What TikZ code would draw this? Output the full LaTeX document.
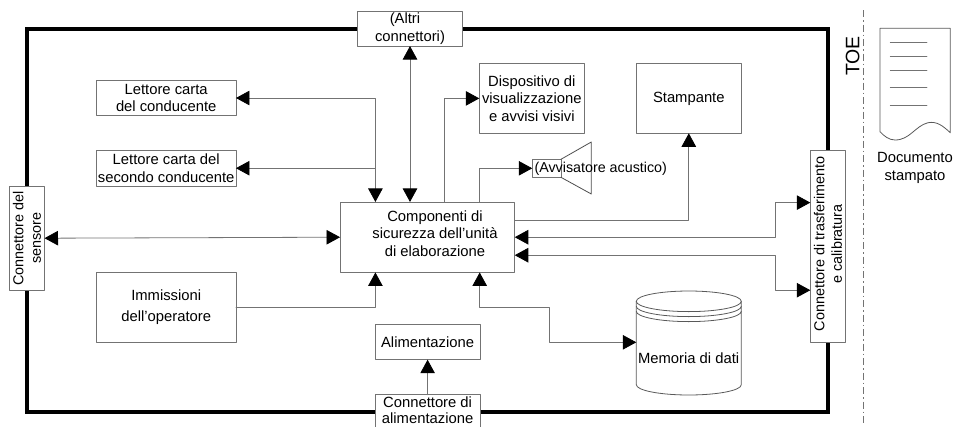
\documentclass[tikz,border=0pt]{standalone}
\usepackage{fontspec}
\setmainfont{Liberation Sans}
\usetikzlibrary{arrows.meta}
\definecolor{linegray}{gray}{0.45}
\tikzset{
  blockbox/.style={draw=linegray,line width=0.7pt,fill=white,rectangle,inner sep=0pt,outer sep=0pt,align=center},
  blocktext/.style={inner sep=0pt,outer sep=0pt,align=center},
  sidebox/.style={blockbox,rotate=90,font=\fontsize{14.4}{17.5}\selectfont},
  linkline/.style={draw=linegray,line width=0.8pt},
  frameline/.style={line width=4pt,line join=miter,line cap=butt},
  thinline/.style={draw=black!65,line width=0.8pt},
  ringarc/.style={start angle=180,end angle=360,x radius=52.5pt,y radius=10.3pt}
}
\begin{document}
\begin{tikzpicture}[line cap=round,line join=round,>={Triangle[length=13.5pt,width=14.5pt,color=black]},x=1pt,y=-1pt,
  every node/.style={font=\fontsize{14.8}{17.5}\selectfont}]
\useasboundingbox (0,0) rectangle (953,426);
\clip (0,0) rectangle (953,426);
% TOE boundary
\draw [frameline] (27,29) rectangle (828,412);
\draw [draw=black!55,line width=0.7pt,line cap=butt,dash pattern=on 7pt off 3pt on 1.5pt off 3pt] (863.3,10) -- (863.3,426);
\node (toe) [blocktext,rotate=90,font=\fontsize{19.5}{22}\selectfont] at (852.7,56) {TOE};
% boxes
\node (altri) [blockbox,minimum width=105pt,minimum height=34.5pt] at (410,28.8) {(Altri\hspace*{10pt}\\connettori)};
\node (lettoreuno) [blockbox,minimum width=139.5pt,minimum height=35pt] at (166.2,98) {Lettore carta\\del conducente};
\node (lettoredue) [blockbox,minimum width=139.5pt,minimum height=35.5pt] at (166.2,168.2) {Lettore carta del\\secondo conducente};
\node (immissioni) [blockbox,minimum width=139.5pt,minimum height=69.5pt] at (166.2,307.2) {Immissioni\\[3pt]dell'operatore};
\node (sensore) [sidebox,minimum width=104.3pt,minimum height=35pt] at (27,238.2) {Connettore del\\sensore};
\node (comp) [blockbox,minimum width=174.7pt,minimum height=70.5pt] at (427.4,237.2) {};
\node (complabel) [blocktext] at (435,233.5) {Componenti di\\sicurezza dell'unità\\di elaborazione};
\node (alim) [blockbox,minimum width=104.5pt,minimum height=35pt] at (427.6,342.2) {Alimentazione};
\node (connalim) [blockbox,minimum width=104.5pt,minimum height=40pt] at (427.6,414.7) {};
\node (connalimlabel) [blocktext] at (427.6,410.7) {Connettore di\\[-1.5pt]alimentazione};
\node (display) [blockbox,minimum width=105pt,minimum height=69.8pt] at (531.8,98.4) {Dispositivo di\\visualizzazione\\e avvisi visivi};
\node (stampante) [blockbox,minimum width=105pt,minimum height=69.8pt] at (688.8,98.4) {Stampante};
\node (trasf) [sidebox,minimum width=191.8pt,minimum height=35.4pt] at (828,246.4) {\hspace*{5pt}Connettore di trasferimento\\\hspace*{5pt}e calibratura};
% loudspeaker
\node (avvisatore) [blockbox,minimum width=28.7pt,minimum height=18pt] at (546.6,168.3) {};
\draw [linkline,draw=black!70] (avvisatore.north east) -- (591.3,142) -- (591.3,194) -- (avvisatore.south east);
\node (avvisatorelabel) [blocktext,anchor=west,font=\fontsize{14.3}{17.5}\selectfont] at (534.5,168.3) {(Avvisatore acustico)};
% data memory
\coordinate (memoria) at (636.3,342.3);
\draw [thinline] (688.8,301.3) ellipse [x radius=52.5pt,y radius=10.3pt];
\draw [thinline] (636.3,306.3) arc [ringarc];
\draw [thinline] (636.3,311.3) arc [ringarc];
\draw [thinline] (636.3,301.3) -- (636.3,384.7) arc [ringarc] -- (741.3,301.3);
\node (memorialabel) [blocktext] at (688.6,358) {Memoria di dati};
% connectors
\coordinate (readerbus) at ([xshift=-52pt]comp.north);
\draw [linkline,<->] (altri.south) -- (altri.south |- comp.north);
\draw [linkline,<->] (lettoreuno.east) -| (readerbus);
\draw [linkline,<-] (lettoredue.east) -- (lettoredue.east -| readerbus);
\draw [linkline,->] ([xshift=17.3pt]comp.north) |- (display.west);
\draw [linkline,->] ([xshift=52.3pt]comp.north) |- (avvisatore.west);
\draw [linkline,->] ([yshift=17pt]comp.east) -| (stampante.south);
\draw [linkline,<->] (sensore.south) -- (comp.west);
\draw [linkline,<->] (comp.east) -- ++(260.7,0) |- ([yshift=43.8pt]trasf.north);
\draw [linkline,<->] ([yshift=-18pt]comp.east) -- ++(260.7,0) |- ([yshift=-43.8pt]trasf.north);
\draw [linkline,->] (immissioni.east) -| ([xshift=-52pt]comp.south);
\draw [linkline,<->] ([xshift=52.3pt]comp.south) -- ++(0,34.8) -- ++(70,0) |- (memoria);
\draw [linkline,->] (connalim.north) -- (alim.south);
% printed document
\node (documento) [blocktext] at (915,168) {Documento\\stampato};
\draw [thinline] (880,131.7) -- (880,28.3) -- (950.3,28.3) -- (950.3,132.7) .. controls (943,126) and (937,121) .. (928,122.7) .. controls (915,126) and (910,140) .. (895,140) .. controls (889,140) and (884,136) .. (880,131.7);
\foreach \ypos in {42.5,56.3,70.7,87.3,105.3}
  \draw [linkline] (890.3,\ypos) -- (927,\ypos);
\end{tikzpicture}
\end{document}
